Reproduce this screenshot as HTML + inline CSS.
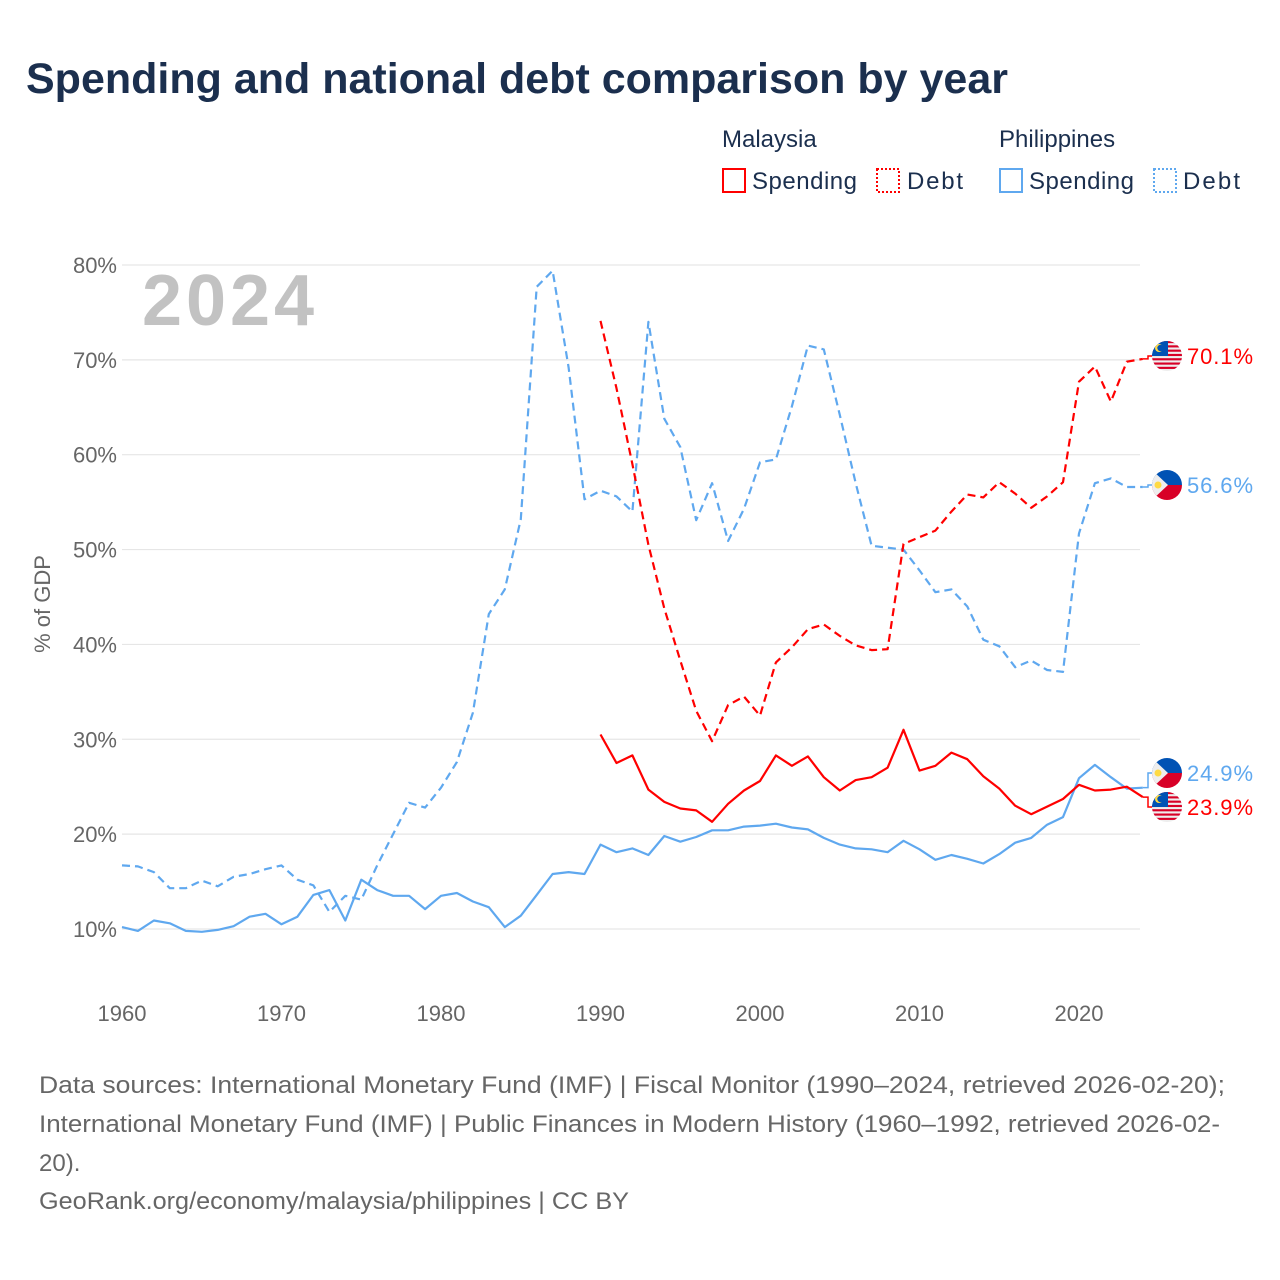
<!DOCTYPE html>
<html><head><meta charset="utf-8">
<style>
body{margin:0;background:#fff;font-family:"Liberation Sans",sans-serif;}
#wrap{position:relative;width:1280px;height:1280px;overflow:hidden;background:#fff}
</style></head>
<body>
<div id="wrap">
<svg id="chart" width="1280" height="1280" xmlns="http://www.w3.org/2000/svg">
<text x="26" y="93" font-size="43" font-weight="bold" fill="#1b2f4e" font-family="Liberation Sans, sans-serif">Spending and national debt comparison by year</text>
<g font-size="24" fill="#1b2f4e">
<text x="722" y="147">Malaysia</text>
<text x="999" y="147">Philippines</text>
<g><rect x="723" y="169" width="22" height="23" fill="none" stroke="#ff0000" stroke-width="2"/><text x="752" y="189" textLength="105">Spending</text></g>
<g><rect x="877" y="169" width="22" height="23" fill="none" stroke="#ff0000" stroke-width="2" stroke-dasharray="2,2"/><text x="907" y="189" textLength="56">Debt</text></g>
<g><rect x="1000" y="169" width="22" height="23" fill="none" stroke="#5fa8ef" stroke-width="2"/><text x="1029" y="189" textLength="105">Spending</text></g>
<g><rect x="1154" y="169" width="22" height="23" fill="none" stroke="#5fa8ef" stroke-width="2" stroke-dasharray="2,2"/><text x="1183" y="189" textLength="57">Debt</text></g>
</g>
<text x="142" y="325" font-size="72" font-weight="bold" fill="#c2c2c2" textLength="172">2024</text>
<text transform="translate(50,604) rotate(-90)" text-anchor="middle" font-size="22" fill="#666">% of GDP</text>
<g id="grid"></g><g id="series"></g><g id="labels"></g>
<g font-size="24" fill="#666">
<text x="39" y="1093" textLength="1186" lengthAdjust="spacingAndGlyphs">Data sources: International Monetary Fund (IMF) | Fiscal Monitor (1990–2024, retrieved 2026-02-20);</text>
<text x="39" y="1132" textLength="1181" lengthAdjust="spacingAndGlyphs">International Monetary Fund (IMF) | Public Finances in Modern History (1960–1992, retrieved 2026-02-</text>
<text x="39" y="1171">20).</text>
<text x="39" y="1209" textLength="590" lengthAdjust="spacingAndGlyphs">GeoRank.org/economy/malaysia/philippines | CC BY</text>
</g>
</svg>
</div>
<script>
const yTicks=[10,20,30,40,50,60,70,80];
const xTicks=[1960,1970,1980,1990,2000,2010,2020];
const phYears0=1960, myYears0=1990;
const phDebt=[16.7,16.6,16.0,14.3,14.3,15.1,14.5,15.5,15.8,16.3,16.7,15.2,14.6,11.8,13.5,13.1,16.7,20.0,23.3,22.8,24.9,27.6,32.8,43.2,45.8,53.2,77.7,79.4,69.2,55.3,56.2,55.6,54.0,74.0,63.8,60.8,53.1,57.0,50.9,54.3,59.2,59.5,65.1,71.5,71.1,64.2,57.0,50.4,50.2,50.0,47.8,45.5,45.8,44.0,40.5,39.8,37.6,38.3,37.3,37.1,51.7,57.0,57.5,56.6,56.6];
const phSpend=[10.2,9.8,10.9,10.6,9.8,9.7,9.9,10.3,11.3,11.6,10.5,11.3,13.6,14.1,10.9,15.2,14.1,13.5,13.5,12.1,13.5,13.8,12.9,12.3,10.2,11.4,13.6,15.8,16.0,15.8,18.9,18.1,18.5,17.8,19.8,19.2,19.7,20.4,20.4,20.8,20.9,21.1,20.7,20.5,19.6,18.9,18.5,18.4,18.1,19.3,18.4,17.3,17.8,17.4,16.9,17.9,19.1,19.6,21.0,21.8,25.9,27.3,26.0,24.8,24.9];
const myDebt=[74.1,67.0,59.0,50.5,43.8,38.3,33.0,29.8,33.6,34.5,32.5,38.1,39.7,41.6,42.1,40.9,39.9,39.4,39.5,50.6,51.3,52.0,54.0,55.8,55.5,57.1,55.9,54.4,55.6,57.1,67.7,69.3,65.6,69.8,70.1];
const mySpend=[30.5,27.5,28.3,24.7,23.4,22.7,22.5,21.3,23.2,24.6,25.6,28.3,27.2,28.2,26.0,24.6,25.7,26.0,27.0,31.0,26.7,27.2,28.6,27.9,26.1,24.8,23.0,22.1,22.9,23.7,25.2,24.6,24.7,25.0,23.9];

const NS='http://www.w3.org/2000/svg';
const X=y=>122+(y-1960)*15.95;
const Y=v=>929-(v-10)*9.486;
function el(t,a,p){const e=document.createElementNS(NS,t);for(const k in a)e.setAttribute(k,a[k]);p.appendChild(e);return e;}
const grid=document.getElementById('grid');
yTicks.forEach(v=>{
  const l=el('line',{x1:122,x2:1140,y1:Y(v),y2:Y(v),stroke:'#e6e6e6','stroke-width':1.2},grid);
  
  
  const t=el('text',{x:117,y:Y(v)+8,'text-anchor':'end','font-size':22,fill:'#666'},grid);
  t.textContent=v+'%';
  
  
});
xTicks.forEach(y=>{
  const t=el('text',{x:X(y),y:1021,'text-anchor':'middle','font-size':22,fill:'#666'},grid);
  t.textContent=y;
  
  
});
const ser=document.getElementById('series');
function line(arr,y0,color,dash,name){
  const d=arr.map((v,i)=>(i?'L':'M')+X(y0+i).toFixed(1)+','+Y(v).toFixed(1)).join('');
  const p=el('path',{d:d,fill:'none',stroke:color,'stroke-width':2.2,'stroke-linejoin':'round'},ser);
  if(dash)p.setAttribute('stroke-dasharray','8,5');
  
  
}
const BLUE='#5fa8ef',RED='#ff0000';
line(phDebt,phYears0,BLUE,true,'philippines-debt-line');
line(phSpend,phYears0,BLUE,false,'philippines-spending-line');
line(myDebt,myYears0,RED,true,'malaysia-debt-line');
line(mySpend,myYears0,RED,false,'malaysia-spending-line');

const lab=document.getElementById('labels');
let cidN=0;
function flag(cx,cy,country,g){
  const cid='flagclip'+(cidN++);
  const cp=el('clipPath',{id:cid},g);el('circle',{cx:cx,cy:cy,r:15},cp);
  const f=el('g',{'clip-path':'url(#'+cid+')'},g);
  if(country==='my'){
    el('rect',{x:cx-15,y:cy-15,width:30,height:30,fill:'#eee'},f);
    for(let i=0;i<7;i++)el('rect',{x:cx-15,y:cy-15+i*4.3,width:30,height:2.15,fill:'#d80027'},f);
    el('rect',{x:cx-15,y:cy-15,width:16,height:15,fill:'#0052b4'},f);
    el('circle',{cx:cx-8,cy:cy-8,r:4,fill:'#ffda44'},f);
    el('circle',{cx:cx-6.5,cy:cy-8,r:3.2,fill:'#0052b4'},f);
  }else{
    el('rect',{x:cx-15,y:cy-15,width:30,height:15,fill:'#0052b4'},f);
    el('rect',{x:cx-15,y:cy,width:30,height:15,fill:'#d80027'},f);
    el('polygon',{points:(cx-15)+','+(cy-15)+' '+(cx+1)+','+cy+' '+(cx-15)+','+(cy+15),fill:'#eee'},f);
    el('circle',{cx:cx-9,cy:cy,r:3.5,fill:'#ffda44'},f);
  }
}
function endLabel(val,ly,color,country,name){
  const g=el('g',{},lab);
  
  
  const ex=X(2024),ey=Y(val);
  el('path',{d:'M'+ex+','+ey+' H1148 V'+ly+' H1153',fill:'none',stroke:color,'stroke-width':1.5},g);
  flag(1167,ly,country,g);
  const t=el('text',{x:1187,y:ly+8,'font-size':22,fill:color,textLength:66},g);
  t.textContent=val.toFixed(1)+'%';
}
endLabel(myDebt[myDebt.length-1],356,RED,'my','malaysia-debt-end-label');
endLabel(phDebt[phDebt.length-1],485,BLUE,'ph','philippines-debt-end-label');
endLabel(phSpend[phSpend.length-1],773,BLUE,'ph','philippines-spending-end-label');
endLabel(mySpend[mySpend.length-1],807,RED,'my','malaysia-spending-end-label');
</script>
</body></html>
